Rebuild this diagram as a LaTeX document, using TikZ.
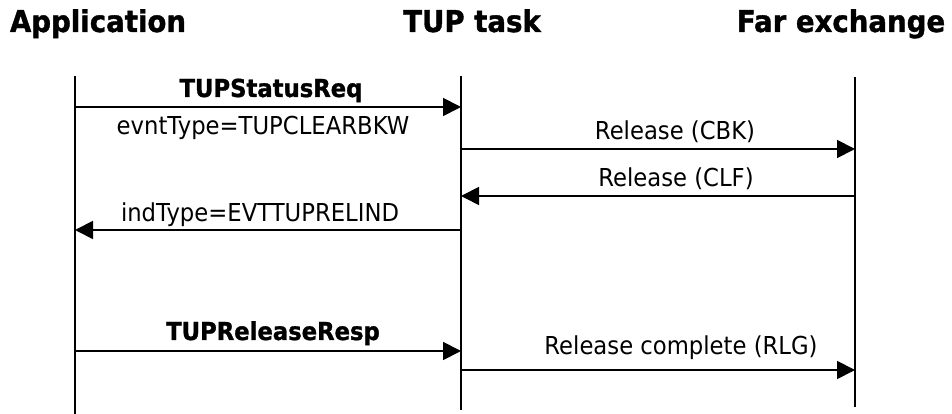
\documentclass[tikz,border=0pt]{standalone}
\usepackage{fontspec}
\setmainfont{DejaVu Sans}[FakeStretch=0.92, BoldFeatures={FakeBold=1.2}]
\usetikzlibrary{arrows.meta}

\begin{document}
\begin{tikzpicture}[x=1pt, y=1pt,
		lifeline/.style={line width=1.6pt},
		msg/.style={line width=1.8pt, -{Triangle[length=18pt, width=18pt]}},
		head/.style={anchor=base, font=\fontsize{30}{36}\selectfont\bfseries},
		lbl/.style={anchor=base, font=\fontsize{24.7}{30}\selectfont},
		blbl/.style={anchor=base, font=\fontsize{24.7}{30}\selectfont\bfseries}]
			%%%%% START %%%%%
			
			\useasboundingbox (0, 0) rectangle (952, 414);
			
			\node[head] (apphead) at (98, 382) {Application};
			\node[head] (tuphead) at (472, 382) {TUP task};
			\node[head] (farhead) at (841, 382) {Far exchange};
			
			\coordinate (apptop) at (75, 338);
			\coordinate (appbot) at (75, 0);
			\coordinate (tuptop) at (461, 338);
			\coordinate (tupbot) at (461, 4);
			\coordinate (fartop) at (855, 337);
			\coordinate (farbot) at (855, 7);
			
			\draw[lifeline] (apptop) -- (appbot);
			\draw[lifeline] (tuptop) -- (tupbot);
			\draw[lifeline] (fartop) -- (farbot);
			
			\coordinate (app1) at (75, 307);
			\coordinate (tup1) at (461, 307);
			\coordinate (tup2) at (461, 265);
			\coordinate (far2) at (855, 265);
			\coordinate (far3) at (855, 218);
			\coordinate (tup3) at (461, 218);
			\coordinate (tup4) at (461, 184);
			\coordinate (app4) at (75, 184);
			\coordinate (app5) at (75, 63);
			\coordinate (tup5) at (461, 63);
			\coordinate (tup6) at (461, 44);
			\coordinate (far6) at (855, 44);
			
			\draw[msg] (app1) -- (tup1);
			\node[blbl] (statusreq) at (271, 317) {TUPStatusReq};
			\node[lbl] (evnttype) at (263, 279) {evntType=TUPCLEARBKW};
			
			\draw[msg] (tup2) -- (far2);
			\node[lbl] (cbk) at (675, 274) {Release (CBK)};
			
			\draw[msg] (far3) -- (tup3);
			\node[lbl] (clf) at (676, 227) {Release (CLF)};
			
			\draw[msg] (tup4) -- (app4);
			\node[lbl] (indtype) at (260, 192) {indType=EVTTUPRELIND};
			
			\draw[msg] (app5) -- (tup5);
			\node[blbl] (releaseresp) at (273, 74) {TUPReleaseResp};
			
			\draw[msg] (tup6) -- (far6);
			\node[lbl] (rlg) at (681, 59) {Release complete (RLG)};
			
			%%%%% END %%%%%
		\end{tikzpicture}
\end{document}
